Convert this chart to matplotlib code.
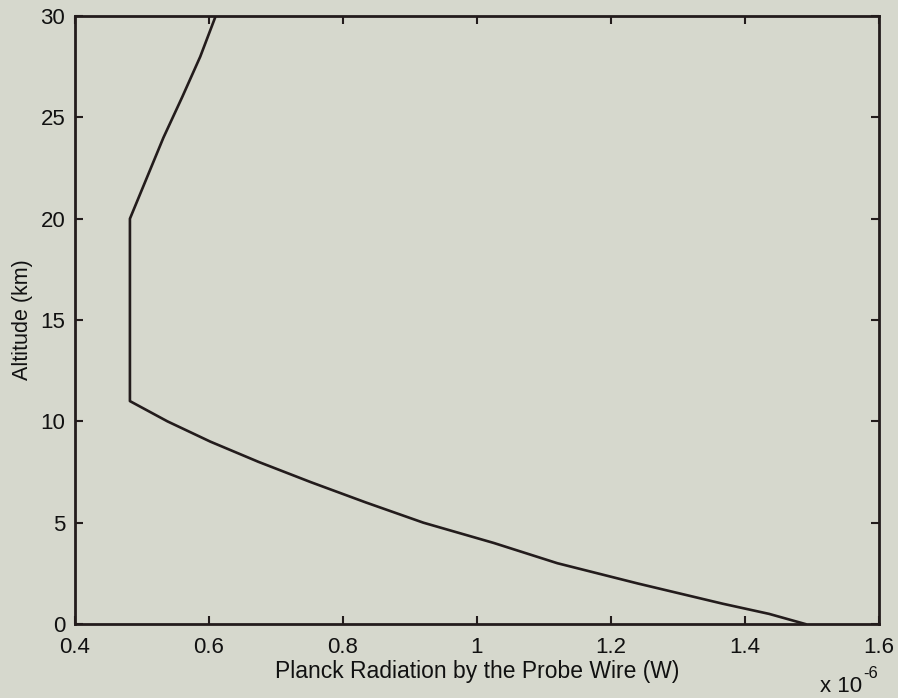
import matplotlib
matplotlib.use("Agg")
import matplotlib.pyplot as plt

# -----------------------
# Profile data (altitude in km, radiation in units of 1e-6 W)
# -----------------------
altitude = [0, 0.5, 1, 2, 3, 4, 5, 6, 7, 8, 9, 10, 11,
            20, 22, 24, 26, 28, 30]
radiation = [1.49, 1.436, 1.367, 1.24, 1.12, 1.025, 0.92, 0.834, 0.752, 0.674, 0.602, 0.538, 0.482,
             0.482, 0.507, 0.532, 0.560, 0.587, 0.61]
x_ticks = [0.4, 0.6, 0.8, 1.0, 1.2, 1.4, 1.6]
x_tick_labels = ["0.4", "0.6", "0.8", "1", "1.2", "1.4", "1.6"]
y_ticks = [0, 5, 10, 15, 20, 25, 30]

bg = "#d6d8cd"
ink = "#231c1c"
txt = "#111111"

plt.rcParams["font.family"] = ["Liberation Sans", "DejaVu Sans"]

W, H = 898, 698
fig = plt.figure(figsize=(W / 100, H / 100), dpi=100, facecolor=bg)
ax = fig.add_axes([0.0835, 0.106, 0.8953, 0.871], facecolor=bg)

ax.plot(radiation, altitude, color=ink, lw=1.9)

ax.set_xlim(0.4, 1.6)
ax.set_ylim(0, 30)
ax.set_xticks(x_ticks)
ax.set_xticklabels(x_tick_labels)
ax.set_yticks(y_ticks)

for s in ax.spines.values():
    s.set_color(ink)
    s.set_linewidth(2.0)

ax.tick_params(direction="in", length=6, width=1.5, color=ink,
               top=True, right=True, labelsize=16, labelcolor=txt)
ax.tick_params(axis="x", pad=9)
ax.tick_params(axis="y", pad=7)

ax.set_xlabel("Planck Radiation by the Probe Wire (W)", fontsize=16.5, color=txt, labelpad=2)
ax.set_ylabel("Altitude (km)", fontsize=15.5, color=txt, labelpad=5)

# exponent marker below the right end of the x axis
fig.text(862 / W, 1 - 692 / H, "x 10", ha="right", va="baseline", fontsize=16, color=txt)
fig.text(863 / W, 1 - 678 / H, "-6", ha="left", va="baseline", fontsize=12, color=txt)

fig.savefig("out.png", dpi=100, facecolor=bg)
